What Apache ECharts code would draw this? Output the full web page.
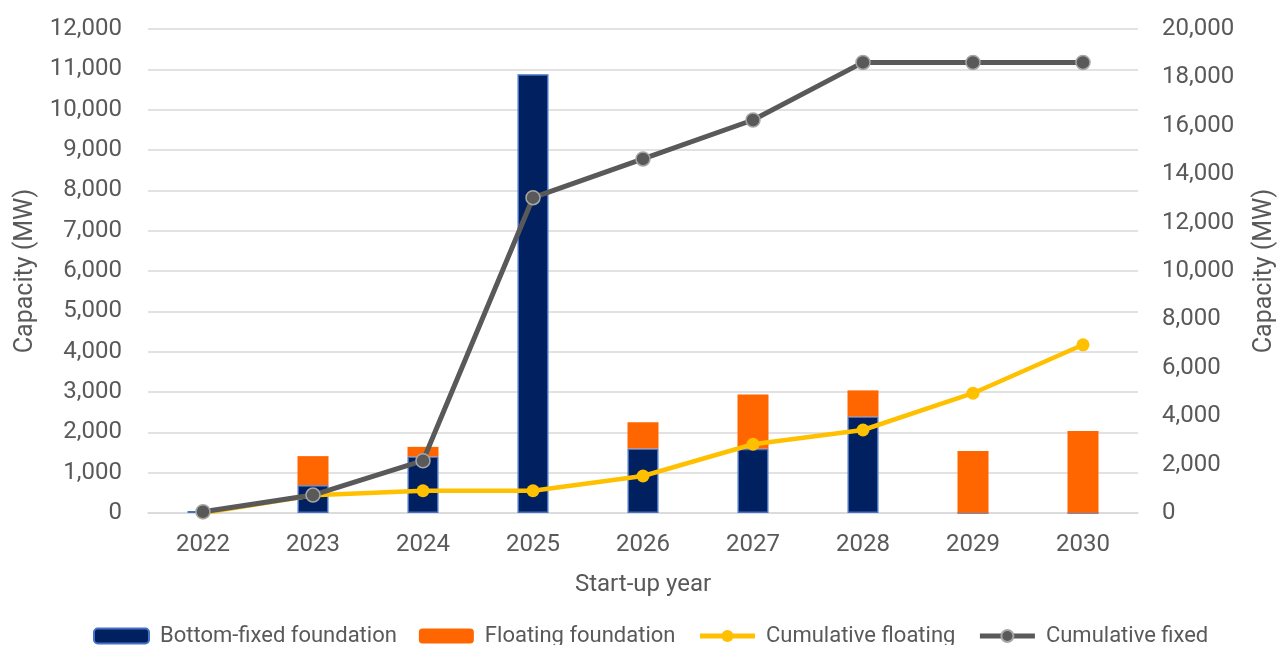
<!DOCTYPE html>
<html>
<head>
<meta charset="utf-8">
<script src="https://cdn.jsdelivr.net/npm/echarts@6/dist/echarts.min.js"></script>
<style>
  html, body { margin: 0; padding: 0; background: #fff; }
  #chart { width: 1277px; height: 645px; }
</style>
</head>
<body>
<div id="chart"></div>
<script>
// Start-up years
const years = ['2022', '2023', '2024', '2025', '2026', '2027', '2028', '2029', '2030'];

// Annual capacity by foundation type (MW)
const bottomFixed = [50, 690, 1400, 10880, 1600, 1590, 2390, 0, 0];
const floating = [0, 720, 240, 0, 650, 1350, 650, 1540, 2030];

// Cumulative capacity (MW), right axis
const cumulativeFloating = [0, 730, 920, 920, 1530, 2840, 3430, 4950, 6950];
const cumulativeFixed = [50, 740, 2160, 13030, 14630, 16240, 18620, 18620, 18620];

const FONT = 'Roboto, "Liberation Sans", sans-serif';
const TEXT = '#595959';

const chart = echarts.init(document.getElementById('chart'), null, { renderer: 'canvas' });

const fmt = v => v.toLocaleString('en-US');

chart.setOption({
  animation: false,
  backgroundColor: '#ffffff',
  textStyle: { fontFamily: FONT, color: TEXT },
  grid: {
    left: 148, right: 139, top: 29, bottom: 132,
    containLabel: false,
    outerBoundsMode: 'none'
  },
  legend: {
    top: 620,
    left: 88,
    padding: 5,
    itemWidth: 55,
    itemHeight: 15,
    itemGap: 22,
    lineStyle: { width: 5 },
    textStyle: { fontFamily: FONT, fontSize: 22, color: TEXT, padding: [0, 0, 0, 6] },
    data: ['Bottom-fixed foundation', 'Floating foundation', 'Cumulative floating', 'Cumulative fixed']
  },
  xAxis: {
    type: 'category',
    data: years,
    name: 'Start-up year',
    nameLocation: 'middle',
    nameGap: 60,
    nameTextStyle: { fontFamily: FONT, fontSize: 24, color: TEXT },
    axisLine: { show: true, lineStyle: { color: '#d9d9d9', width: 1.5 } },
    axisTick: { show: false },
    axisLabel: { fontFamily: FONT, fontSize: 24, color: TEXT, margin: 20 }
  },
  yAxis: [
    {
      type: 'value',
      min: 0, max: 12000, interval: 1000,
      name: 'Capacity (MW)',
      nameLocation: 'middle',
      nameGap: 110,
      nameRotate: 90,
      nameTextStyle: { fontFamily: FONT, fontSize: 25, color: TEXT },
      axisLine: { show: false },
      axisTick: { show: false },
      axisLabel: { fontFamily: FONT, fontSize: 24, color: TEXT, margin: 26, formatter: fmt },
      splitLine: { lineStyle: { color: '#d9d9d9', width: 1.5 } }
    },
    {
      type: 'value',
      min: 0, max: 20000, interval: 2000,
      name: 'Capacity (MW)',
      nameLocation: 'middle',
      nameGap: 114,
      nameRotate: 90,
      nameTextStyle: { fontFamily: FONT, fontSize: 25, color: TEXT },
      axisLine: { show: false },
      axisTick: { show: false },
      axisLabel: { fontFamily: FONT, fontSize: 24, color: TEXT, margin: 24, formatter: fmt },
      splitLine: { show: false }
    }
  ],
  series: [
    {
      name: 'Bottom-fixed foundation',
      type: 'bar',
      stack: 'annual',
      barWidth: 31,
      data: bottomFixed,
      itemStyle: { color: '#002060', borderColor: '#4472c4', borderWidth: 1.5 }
    },
    {
      name: 'Floating foundation',
      type: 'bar',
      stack: 'annual',
      barWidth: 31,
      data: floating,
      itemStyle: { color: '#ff6600' }
    },
    {
      name: 'Cumulative floating',
      type: 'line',
      yAxisIndex: 1,
      data: cumulativeFloating,
      symbol: 'circle',
      symbolSize: 13,
      lineStyle: { color: '#ffc000', width: 4.5 },
      itemStyle: { color: '#ffc000' },
      z: 3
    },
    {
      name: 'Cumulative fixed',
      type: 'line',
      yAxisIndex: 1,
      data: cumulativeFixed,
      symbol: 'circle',
      symbolSize: 14,
      lineStyle: { color: '#595959', width: 5 },
      itemStyle: { color: '#595959', borderColor: '#a6a6a6', borderWidth: 1.5 },
      z: 4
    }
  ]
});
</script>
</body>
</html>
